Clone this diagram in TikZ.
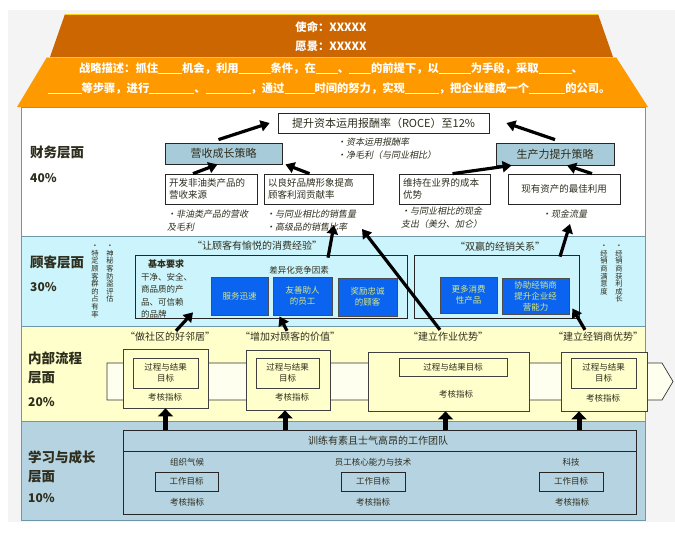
\documentclass[tikz,border=0pt]{standalone}
\usepackage{fontspec}
\setmainfont{Noto Sans CJK SC}
\newfontfamily\slfont{Noto Sans CJK SC}[FakeSlant=0.2]
\usetikzlibrary{arrows.meta}
\definecolor{roofdark}{HTML}{CC6600}
\definecolor{rooflight}{HTML}{FF9900}
\definecolor{cusbg}{HTML}{CCF4FC}
\definecolor{intbg}{HTML}{FFFFCC}
\definecolor{lrnbg}{HTML}{B6D3E1}
\definecolor{layerline}{HTML}{6E97A8}
\definecolor{txt}{HTML}{2E2E1E}
\definecolor{stratfill}{HTML}{A8CBD9}
\definecolor{bluebox}{HTML}{0A64F0}
\definecolor{blueboxtxt}{HTML}{D8E880}
\definecolor{bandfill}{HTML}{FFFFF0}
\definecolor{framegray}{HTML}{F4F4F4}
\newcommand{\blk}[1]{\rule[-1.5pt]{#1pt}{0.6pt}}
\tikzset{
  fsmall/.style={font=\fontsize{8.5}{11}\selectfont, text=txt},
  fmid/.style={font=\fontsize{9.5}{12.5}\selectfont, text=txt},
  fbig/.style={font=\fontsize{11}{13}\selectfont, text=txt},
  fquote/.style={font=\fontsize{10}{12}\selectfont, text=txt},
  fslant/.style={font=\fontsize{9}{12.5}\selectfont\slfont, text=txt, align=left, inner sep=0pt},
  flabel/.style={font=\fontsize{13.5}{19}\selectfont\bfseries, text=txt, align=left, inner sep=0pt, anchor=west},
  fpct/.style={font=\fontsize{12}{14}\selectfont\bfseries, text=txt, inner sep=0pt, anchor=west},
  vtxt/.style={font=\fontsize{7.3}{7.6}\selectfont, text=txt, align=center, inner sep=0pt, anchor=north},
  wbox/.style={draw=black!85, line width=0.7pt, fill=white, inner sep=0pt},
  sbox/.style={draw=black!85, line width=0.8pt, fill=stratfill, inner sep=0pt, fbig},
  bbox/.style={draw=black!70, line width=0.8pt, fill=bluebox, inner sep=0pt, align=center,
    font=\fontsize{8.5}{11}\selectfont, text=blueboxtxt},
  obox/.style={draw=black!85, line width=0.7pt, inner sep=0pt},
  ybox/.style={draw=black!75, line width=0.8pt, fill=intbg, inner sep=0pt},
  rooftxt/.style={font=\fontsize{11.3}{13}\selectfont\bfseries, text=white},
  arr/.style={line width=3.2pt, -{Triangle[length=9pt,width=11pt]}},
  uparr/.style={line width=5pt, -{Triangle[length=8pt,width=15pt]}},
}
\begin{document}
\begin{tikzpicture}[x=1pt,y=-1pt]
\useasboundingbox (0,0) rectangle (675,541);
\fill[white] (0,0) rectangle (675,541);
\fill[framegray] (8,10) rectangle (675,522);
% layers
\fill[white] (21,107) rectangle (645,236);
\fill[cusbg] (21,236) rectangle (645,326);
\fill[intbg] (21,326) rectangle (645,421);
\fill[lrnbg] (21,421) rectangle (645,520);
\draw[layerline, line width=0.8pt] (21,107) rectangle (645,520);
\draw[layerline, line width=0.8pt] (21,236) -- (645,236) (21,326) -- (645,326) (21,421) -- (645,421);
% roof
\fill[rooflight] (47,57) -- (616,57) -- (648,107) -- (17,107) -- cycle;
\draw[yellow!80!orange, line width=0.6pt] (47,57) -- (616,57);
\fill[roofdark] (65,14) -- (598,14) -- (613,57) -- (50,57) -- cycle;
\draw[yellow!70!orange, line width=0.6pt] (65,14) -- (598,14);
\node[rooftxt] (mis) at (331,27) {使命：XXXXX};
\node[rooftxt] (vis) at (331,46) {愿景：XXXXX};
\node[rooftxt] (st1) at (331,68)
  {战略描述：抓住\blk{24}机会，利用\blk{32}条件，在\blk{22}、\blk{22}的前提下，以\blk{32}为手段，采取\blk{33}、};
\node[rooftxt] (st2) at (329,88)
  {\blk{34}等步骤，进行\blk{45}、\blk{45}，通过\blk{30}时间的努力，实现\blk{34}，把企业建成一个\blk{36}的公司。};
% layer labels
\node[flabel] (l1) at (30,152) {财务层面};
\node[fpct] (p1) at (30,178) {40\%};
\node[flabel] (l2) at (30,262) {顾客层面};
\node[fpct] (p2) at (30,287) {30\%};
\node[flabel] (l3) at (28,368) {内部流程\\层面};
\node[fpct] (p3) at (28,402) {20\%};
\node[flabel] (l4) at (28,467) {学习与成长\\层面};
\node[fpct] (p4) at (28,498) {10\%};
% financial layer
\node[wbox, fbig, minimum width=211, minimum height=20] (roce) at (383.5,123) {提升资本运用报酬率（ROCE）至12\%};
\node[sbox, minimum width=117, minimum height=21] (s1) at (223.5,153.5) {营收成长策略};
\node[sbox, minimum width=118, minimum height=22] (s2) at (555,154) {生产力提升策略};
\node[fslant, anchor=north west] (rb) at (337,138) {•资本运用报酬率\\•净毛利（与同业相比）};
\node[wbox, fmid, minimum width=92, minimum height=30, text width=84, align=left] (b1) at (211,189) {开发非油类产品的\\营收来源};
\node[wbox, fmid, minimum width=109, minimum height=30, text width=101, align=left] (b2) at (318.5,189) {以良好品牌形象提高\\顾客利润贡献率};
\node[wbox, fmid, minimum width=91, minimum height=30, text width=83, align=left] (b3) at (444.5,189) {维持在业界的成本\\优势};
\node[wbox, fmid, minimum width=112, minimum height=30, align=center] (b4) at (564,189) {现有资产的最佳利用};
\node[fslant, anchor=north west] (fb1) at (167,210) {•非油类产品的营收\\及毛利};
\node[fslant, anchor=north west] (fb2) at (266,210) {•与同业相比的销售量\\•高级品的销售比率};
\node[fslant, anchor=north west] (fb3) at (401,207) {•与同业相比的现金\\支出（美分、加仑）};
\node[fslant, anchor=north west] (fb4) at (542,210) {•现金流量};
\draw[arr] ([xshift=-5pt,yshift=3pt]s1.north) -- ([xshift=-8pt]roce.west);
\draw[arr] ([yshift=3pt]s2.north) -- ([xshift=17pt]roce.east);
\draw[arr] ([xshift=-18pt]b1.north) -- ([xshift=-6pt]s1.south);
\draw[arr] ([xshift=-9pt]b2.north) -- ([xshift=3pt]s1.south east);
\draw[arr] ([xshift=8pt]b3.north) -- ([xshift=16pt]s2.south west);
\draw[arr] ([xshift=28pt]b4.north) -- ([xshift=12pt]s2.south);
% customer layer
\node[vtxt] (v1) at (95,245) {•\\特\\定\\顾\\客\\群\\的\\占\\有\\率};
\node[vtxt] (v2) at (110,245) {•\\神\\秘\\客\\防\\盗\\评\\估};
\node[vtxt] (v3) at (604,245) {•\\经\\销\\商\\满\\意\\度};
\node[vtxt] (v4) at (619,245) {•\\经\\销\\商\\获\\利\\成\\长};
\node[fquote] (cq1) at (257,246) {“让顾客有愉悦的消费经验”};
\node[fquote] (cq2) at (500,247) {“双赢的经销关系”};
\node[obox, minimum width=272, minimum height=63] (cb1) at (271,286.5) {};
\node[obox, minimum width=165, minimum height=63] (cb2) at (496.5,286.5) {};
\node[fsmall, font=\fontsize{9}{11}\selectfont\bfseries, inner sep=0pt] (req) at (166,264) {基本要求};
\node[fsmall, font=\fontsize{8.5}{12.3}\selectfont, align=left, anchor=north west, inner sep=0pt] (reqt) at (141,273) {干净、安全、\\商品质的产\\品、可信赖\\的品牌};
\node[fsmall, inner sep=0pt] (diff) at (299,270) {差异化竞争因素};
\node[bbox, minimum width=57, minimum height=38] (bb1) at (239.5,296) {服务迅速};
\node[bbox, minimum width=59, minimum height=38] (bb2) at (302.5,296) {友善助人\\的员工};
\node[bbox, minimum width=59, minimum height=38] (bb3) at (367.5,297) {奖励忠诚\\的顾客};
\node[bbox, minimum width=57, minimum height=36] (bb4) at (468.5,295) {更多消费\\性产品};
\node[bbox, minimum width=67, minimum height=36] (bb5) at (535.5,296) {协助经销商\\提升企业经\\营能力};
% internal process layer
\fill[bandfill] (107,363) -- (662,363) -- (673,381.5) -- (662,400) -- (107,400) -- cycle;
\draw[black!80, line width=0.7pt] (107,363) -- (662,363) -- (673,381.5) -- (662,400) -- (107,400) -- cycle;
\node[fquote] (q1) at (170,337) {“做社区的好邻居”};
\node[fquote] (q2) at (290,337) {“增加对顾客的价值”};
\node[fquote] (q3) at (448,337) {“建立作业优势”};
\node[fquote] (q4) at (598,337) {“建立经销商优势”};
\node[ybox, minimum width=85, minimum height=59] (ib1) at (165.5,378.5) {};
\node[ybox, minimum width=84, minimum height=60] (ib2) at (288,380) {};
\node[ybox, minimum width=161, minimum height=59] (ib3) at (448.5,381.5) {};
\node[ybox, minimum width=86, minimum height=59] (ib4) at (604,381.5) {};
\node[ybox, fsmall, align=center, minimum width=65, minimum height=30] (in1) at (165.5,373) {过程与结果\\目标};
\node[ybox, fsmall, align=center, minimum width=63, minimum height=30] (in2) at (287.5,373) {过程与结果\\目标};
\node[ybox, fsmall, align=center, minimum width=108, minimum height=18] (in3) at (453,367) {过程与结果目标};
\node[ybox, fsmall, align=center, minimum width=65, minimum height=30] (in4) at (603.5,373) {过程与结果\\目标};
\node[fsmall, inner sep=0pt] (k1) at (165,397) {考核指标};
\node[fsmall, inner sep=0pt] (k2) at (292,397) {考核指标};
\node[fsmall, inner sep=0pt] (k3) at (456,394) {考核指标};
\node[fsmall, inner sep=0pt] (k4) at (603,398) {考核指标};
% customer arrows
\coordinate (c3end) at (362,229);
\coordinate (c4end) at (334,225);
\coordinate (c5end) at (570,224);
\draw[arr] ([xshift=6pt,yshift=-2pt]q1.north) -- ([xshift=-78pt,yshift=6pt]cb1.south);
\draw[arr] ([xshift=-3pt,yshift=-2pt]q2.north) -- ([xshift=-23pt,yshift=-1pt]bb2.south);
\draw[arr] ([xshift=-8pt,yshift=-1pt]q3.north) -- (c3end);
\draw[arr] ([xshift=57pt,yshift=-3pt]cb1.north) -- (c4end);
\draw[arr] ([xshift=63.5pt,yshift=-2pt]cb2.north) -- (c5end);
\draw[arr] ([xshift=-13pt,yshift=-1pt]q4.north) -- ([xshift=3pt,yshift=6pt]bb5.south east);
% learning layer
\node[obox, draw=black!85, minimum width=513, minimum height=84] (lb) at (379.5,472) {};
\draw[black!85, line width=0.7pt] (lb.west |- 0,451) -- (lb.east |- 0,451);
\node[fquote] (lh) at (378,441) {训练有素且士气高昂的工作团队};
\node[fsmall, inner sep=0pt] (g1) at (187,462) {组织气候};
\node[fsmall, inner sep=0pt] (g2) at (373,462) {员工核心能力与技术};
\node[fsmall, inner sep=0pt] (g3) at (571,462) {科技};
\node[obox, draw=black!85, fsmall, minimum width=63, minimum height=19] (w1) at (186.5,481.5) {工作目标};
\node[obox, draw=black!85, fsmall, minimum width=64, minimum height=19] (w2) at (373,481.5) {工作目标};
\node[obox, draw=black!85, fsmall, minimum width=64, minimum height=19] (w3) at (571,481.5) {工作目标};
\node[fsmall, inner sep=0pt] (h1) at (187,502) {考核指标};
\node[fsmall, inner sep=0pt] (h2) at (373,502) {考核指标};
\node[fsmall, inner sep=0pt] (h3) at (572,502) {考核指标};
% up arrows
\draw[uparr] (ib1.south |- lb.north) -- (ib1.south);
\draw[uparr] ([xshift=-3pt]ib2.south |- lb.north) -- ([xshift=-3pt]ib2.south);
\draw[uparr] ([xshift=-3pt]ib3.south |- lb.north) -- ([xshift=-3pt]ib3.south);
\draw[uparr] ([xshift=-25pt]ib4.south |- lb.north) -- ([xshift=-25pt]ib4.south);
\end{tikzpicture}
\end{document}
